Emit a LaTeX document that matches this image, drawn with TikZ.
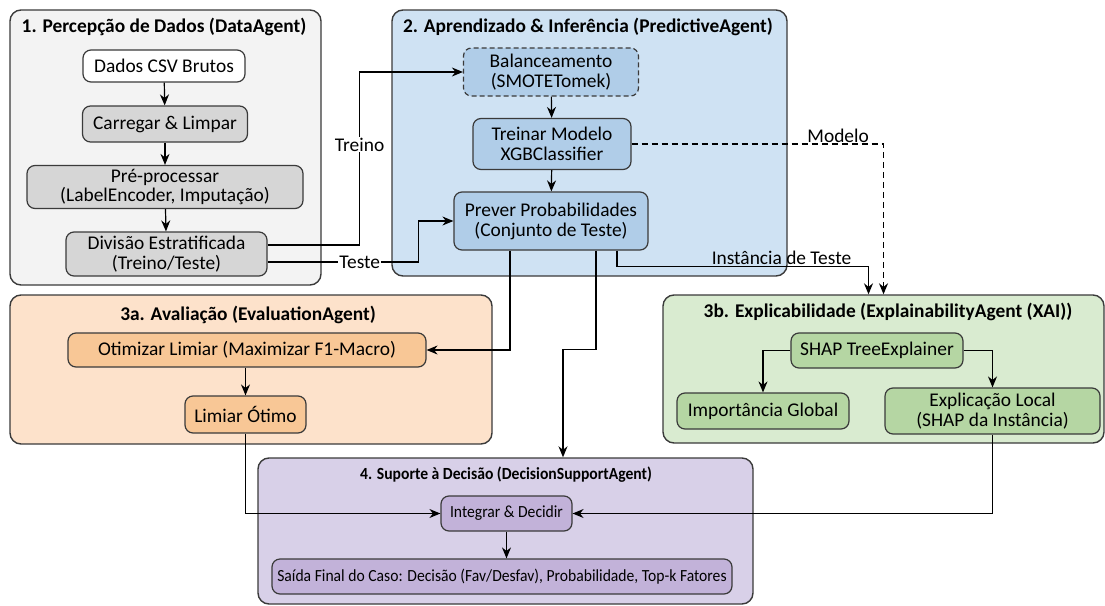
\documentclass[tikz,border=0pt]{standalone}
\usepackage{fontspec}
\setmainfont{Carlito}
\newfontfamily\narrowfont[FakeStretch=0.92]{Carlito}
\usepackage{tikz}
\usetikzlibrary{arrows.meta}
\usetikzlibrary{calc}

\definecolor{grpgray}{HTML}{F3F3F3}
\definecolor{boxgray}{HTML}{D6D6D6}
\definecolor{grpblue}{HTML}{CFE2F3}
\definecolor{boxblue}{HTML}{B0CDE8}
\definecolor{grporange}{HTML}{FDE2CB}
\definecolor{boxorange}{HTML}{F8C796}
\definecolor{grpgreen}{HTML}{D9EBD0}
\definecolor{boxgreen}{HTML}{B5D6A3}
\definecolor{grppurple}{HTML}{D8D0E8}
\definecolor{boxpurple}{HTML}{C2B2D9}
\definecolor{edge}{HTML}{3A3A3A}

\begin{document}
\begin{tikzpicture}[x=1pt, y=-1pt,
        font=\fontsize{19.4}{20}\selectfont,
        panel/.style={draw=edge, line width=1.4pt, rounded corners=11pt, inner sep=0pt},
        title/.style={font=\fontsize{19.4}{20}\selectfont\bfseries},
        proc/.style={draw=edge, line width=1.2pt, rounded corners=8pt, inner sep=0pt, align=center},
        small/.style={font=\narrowfont\fontsize{17}{18}\selectfont},
        lbl/.style={font=\fontsize{19.4}{20}\selectfont, inner sep=1pt},
        arr/.style={-{Stealth[length=11pt,width=9pt]}, line width=1.2pt, draw=black}]
        \useasboundingbox (0,0) rectangle (1105,605);

        % groups
        \node[panel, fill=grpgray, minimum width=311pt, minimum height=275pt] (g1) at (165.5,147.5) {};
        \node[panel, fill=grpblue, minimum width=395pt, minimum height=266pt] (g2) at (589.5,143) {};
        \node[panel, fill=grporange, minimum width=482pt, minimum height=149pt] (g3a) at (251,369.5) {};
        \node[panel, fill=grpgreen, minimum width=441pt, minimum height=148pt] (g3b) at (883.5,369) {};
        \node[panel, fill=grppurple, minimum width=495pt, minimum height=146pt] (g4) at (505.5,531) {};

        \node[title] (t1) at (164,27) {1. Percepção de Dados (DataAgent)};
        \node[title] (t2) at (588,27) {2. Aprendizado \& Inferência (PredictiveAgent)};
        \node[title] (t3a) at (248,315) {3a. Avaliação (EvaluationAgent)};
        \node[title] (t3b) at (888,312) {3b. Explicabilidade (ExplainabilityAgent (XAI))};
        \node[title, font=\narrowfont\fontsize{17}{18}\selectfont\bfseries] (t4) at (506,475) {4. Suporte à Decisão (DecisionSupportAgent)};

        \begin{scope}
            % 1
            \node[proc, fill=white, minimum width=162pt, minimum height=32pt] (dados) at (164,66) {Dados CSV Brutos};
            \node[proc, fill=boxgray, minimum width=165pt, minimum height=36pt] (carr) at (165,124) {Carregar \& Limpar};
            \node[proc, fill=boxgray, minimum width=276pt, minimum height=43pt] (prep) at (165,187) {Pré-processar\\(LabelEncoder, Imputação)};
            \node[proc, fill=boxgray, minimum width=201pt, minimum height=44pt] (div) at (166.5,254) {Divisão Estratificada\\(Treino/Teste)};

            % 2
            \node[proc, fill=boxblue, dash pattern=on 5pt off 3pt, minimum width=175pt, minimum height=48pt] (bal) at (551,72) {Balanceamento\\(SMOTETomek)};
            \node[proc, fill=boxblue, minimum width=158pt, minimum height=51pt] (trein) at (552,144) {Treinar Modelo\\XGBClassifier};
            \node[proc, fill=boxblue, minimum width=194pt, minimum height=58pt] (prev) at (551,221) {Prever Probabilidades\\(Conjunto de Teste)};

            % 3a
            \node[proc, fill=boxorange, minimum width=358pt, minimum height=34pt] (otim) at (247,350) {Otimizar Limiar (Maximizar F1-Macro)};
            \node[proc, fill=boxorange, minimum width=121pt, minimum height=37pt] (lim) at (245.5,414.5) {Limiar Ótimo};

            % 3b
            \node[proc, fill=boxgreen, minimum width=172pt, minimum height=35pt] (shap) at (877,350.5) {SHAP TreeExplainer};
            \node[proc, fill=boxgreen, minimum width=172pt, minimum height=36pt] (imp) at (763,411) {Importância Global};
            \node[proc, fill=boxgreen, minimum width=215pt, minimum height=46pt] (expl) at (992.5,411) {Explicação Local\\(SHAP da Instância)};

            % 4
            \node[proc, small, fill=boxpurple, minimum width=131pt, minimum height=35pt] (integ) at (506.5,513.5) {Integrar \& Decidir};
            \node[proc, small, fill=boxpurple, minimum width=460pt, minimum height=35pt] (saida) at (502,576.5) {Saída Final do Caso: Decisão (Fav/Desfav), Probabilidade, Top-k Fatores};
        \end{scope}

        \begin{scope}[arr]
            \draw (dados) -- (carr);
            \draw (carr) -- (prep);
            \draw (prep) -- (div);
            \draw ([yshift=9pt]div.east) -- ++(92,0) |- node[lbl, fill=white, pos=0.29] {Treino} (bal.west);
            \draw ([yshift=-8pt]div.east) -- node[lbl, fill=white, pos=0.61] {Teste} ++(151,0) |- (prev.west);
            \draw (bal) -- (trein);
            \draw (trein) -- (prev);
            \draw[dash pattern=on 6pt off 4pt] (trein.east) -| node[lbl, above, pos=0.41] {Modelo} (g3b.north);
            \draw ([xshift=66pt]prev.south) -- ++(0,16) -| node[lbl, above, pos=0.327] {Instância de Teste} ([xshift=-15pt]g3b.north);
            \draw ([xshift=-41pt]prev.south) |- (otim.east);
            \draw ([xshift=45pt]prev.south) -- ++(0,99) -| ([xshift=57.5pt]g4.north);
            \draw (otim.south -| lim.north) -- (lim.north);
            \draw (shap.west) -| (imp.north);
            \draw (shap.east) -| (expl.north);
            \draw (lim.south) |- (integ.west);
            \draw (expl.south) |- (integ.east);
            \draw (integ.south) -- (integ.south |- saida.north);
        \end{scope}
\end{tikzpicture}
\end{document}
